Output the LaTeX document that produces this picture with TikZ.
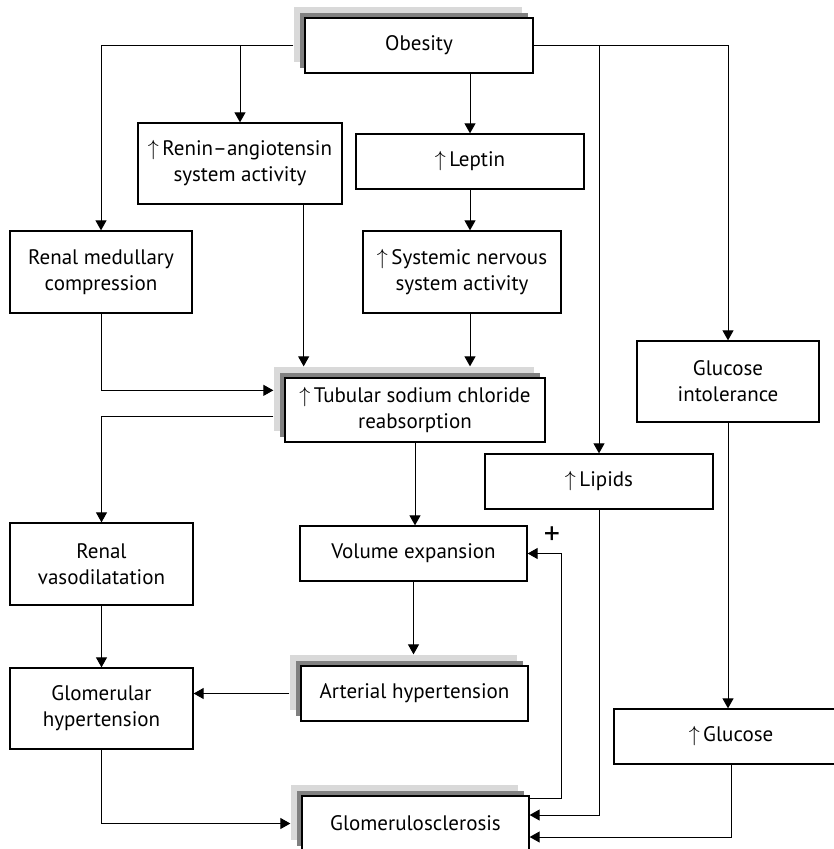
\documentclass[tikz,border=0pt]{standalone}
\usepackage{fontspec}
\setmainfont{PT Sans}
\usetikzlibrary{arrows.meta, shadows}

\begin{document}
\begin{tikzpicture}[
    x=0.5pt, y=-0.5pt, ->, >={Triangle[width=5.5pt,length=5pt]}, line width=0.5pt,
    font=\fontsize{10.5}{13}\selectfont,
    box/.style={draw, fill=white, align=center, inner sep=0pt, line width=0.65pt},
    shadowbox/.style={box,
        copy shadow={shadow xshift=-5.5pt, shadow yshift=5.5pt, fill=black!15, draw=none},
        copy shadow={shadow xshift=-2.5pt, shadow yshift=2.5pt, fill=black!50, draw=none}},
    pastshadow/.style={shorten >=5.5pt},
    fromshadow/.style={shorten <=5.5pt}
]
\useasboundingbox (0,0) rectangle (833,849);
\node (obesity) [shadowbox, minimum width=114pt, minimum height=27.5pt] at (419,45.5) {Obesity};
\node (renin) [box, minimum width=102pt, minimum height=40.5pt] at (240,163.5) {$\uparrow$\,Renin--angiotensin\\system activity};
\node (leptin) [box, minimum width=114pt, minimum height=27.5pt] at (470,161.5) {$\uparrow$\,Leptin};
\node (systemic) [box, minimum width=99pt, minimum height=41pt] at (462,272) {$\uparrow$\,Systemic nervous\\system activity};
\node (medullary) [box, minimum width=91pt, minimum height=41pt] at (101,272) {Renal medullary\\compression};
\node (glucint) [box, minimum width=91pt, minimum height=40.5pt] at (728,381.5) {Glucose\\intolerance};
\node (tubular) [shadowbox, minimum width=130pt, minimum height=32pt] at (415,410) {$\uparrow$\,Tubular sodium chloride\\reabsorption};
\node (lipids) [box, minimum width=114pt, minimum height=27.5pt] at (599,481.5) {$\uparrow$\,Lipids};
\node (volume) [box, minimum width=113.5pt, minimum height=27.5pt] at (413.5,553.5) {Volume expansion};
\node (vasodil) [box, minimum width=91.5pt, minimum height=41pt] at (101.5,564) {Renal\\vasodilatation};
\node (glomhyp) [box, minimum width=91.5pt, minimum height=40.5pt] at (101.5,708.5) {Glomerular\\hypertension};
\node (arterial) [shadowbox, minimum width=113.5pt, minimum height=27.5pt] at (414.5,693.5) {Arterial hypertension};
\node (glomscl) [shadowbox, minimum width=113.5pt, minimum height=27.5pt] at (415.5,823.5) {Glomerulosclerosis};
\node (glucose) [box, minimum width=117pt, minimum height=27.5pt] at (731,736.5) {$\uparrow$\,Glucose};
\node (plus) [inner sep=0pt, font=\fontsize{16}{16}\selectfont] at (552,536) {+};
\coordinate (reninout) at ([xshift=-19.5pt]renin.south east);
\coordinate (loopturn) at ([xshift=16pt,yshift=-1.5pt]glomscl.north east);
\draw[fromshadow] (obesity.west) -| (medullary.north);
\draw (obesity.west -| renin.north) -- (renin.north);
\draw (obesity.south -| leptin.north) -- (leptin.north);
\draw (obesity.east) -| (glucint.north);
\draw (obesity.east -| lipids.north) -- (lipids.north);
\draw (leptin.south) -- (leptin.south |- systemic.north);
\draw[pastshadow] (systemic.south -| leptin.south) -- (tubular.north -| leptin.south);
\draw[pastshadow] (reninout) -- (reninout |- tubular.north);
\draw[pastshadow] (medullary.south) |- ([yshift=-6.5pt]tubular.north west);
\draw[fromshadow] ([yshift=-19.5pt]tubular.north west) -| (vasodil.north);
\draw (tubular.south) -- (tubular.south |- volume.north);
\draw[pastshadow] (volume.south) -- (volume.south |- arterial.north);
\draw[fromshadow] (arterial.west) -- (arterial.west -| glomhyp.east);
\draw (vasodil) -- (glomhyp);
\draw[pastshadow] (glomhyp.south) |- (glomscl.west);
\draw ([yshift=-1.5pt]glomscl.north east) -- (loopturn) |- (volume.east);
\draw (lipids.south) |- ([yshift=4.25pt]glomscl.east);
\draw (glucose.south) |- ([yshift=-6.75pt]glomscl.east);
\draw (glucint.south) -- (glucint.south |- glucose.north);
\end{tikzpicture}
\end{document}
